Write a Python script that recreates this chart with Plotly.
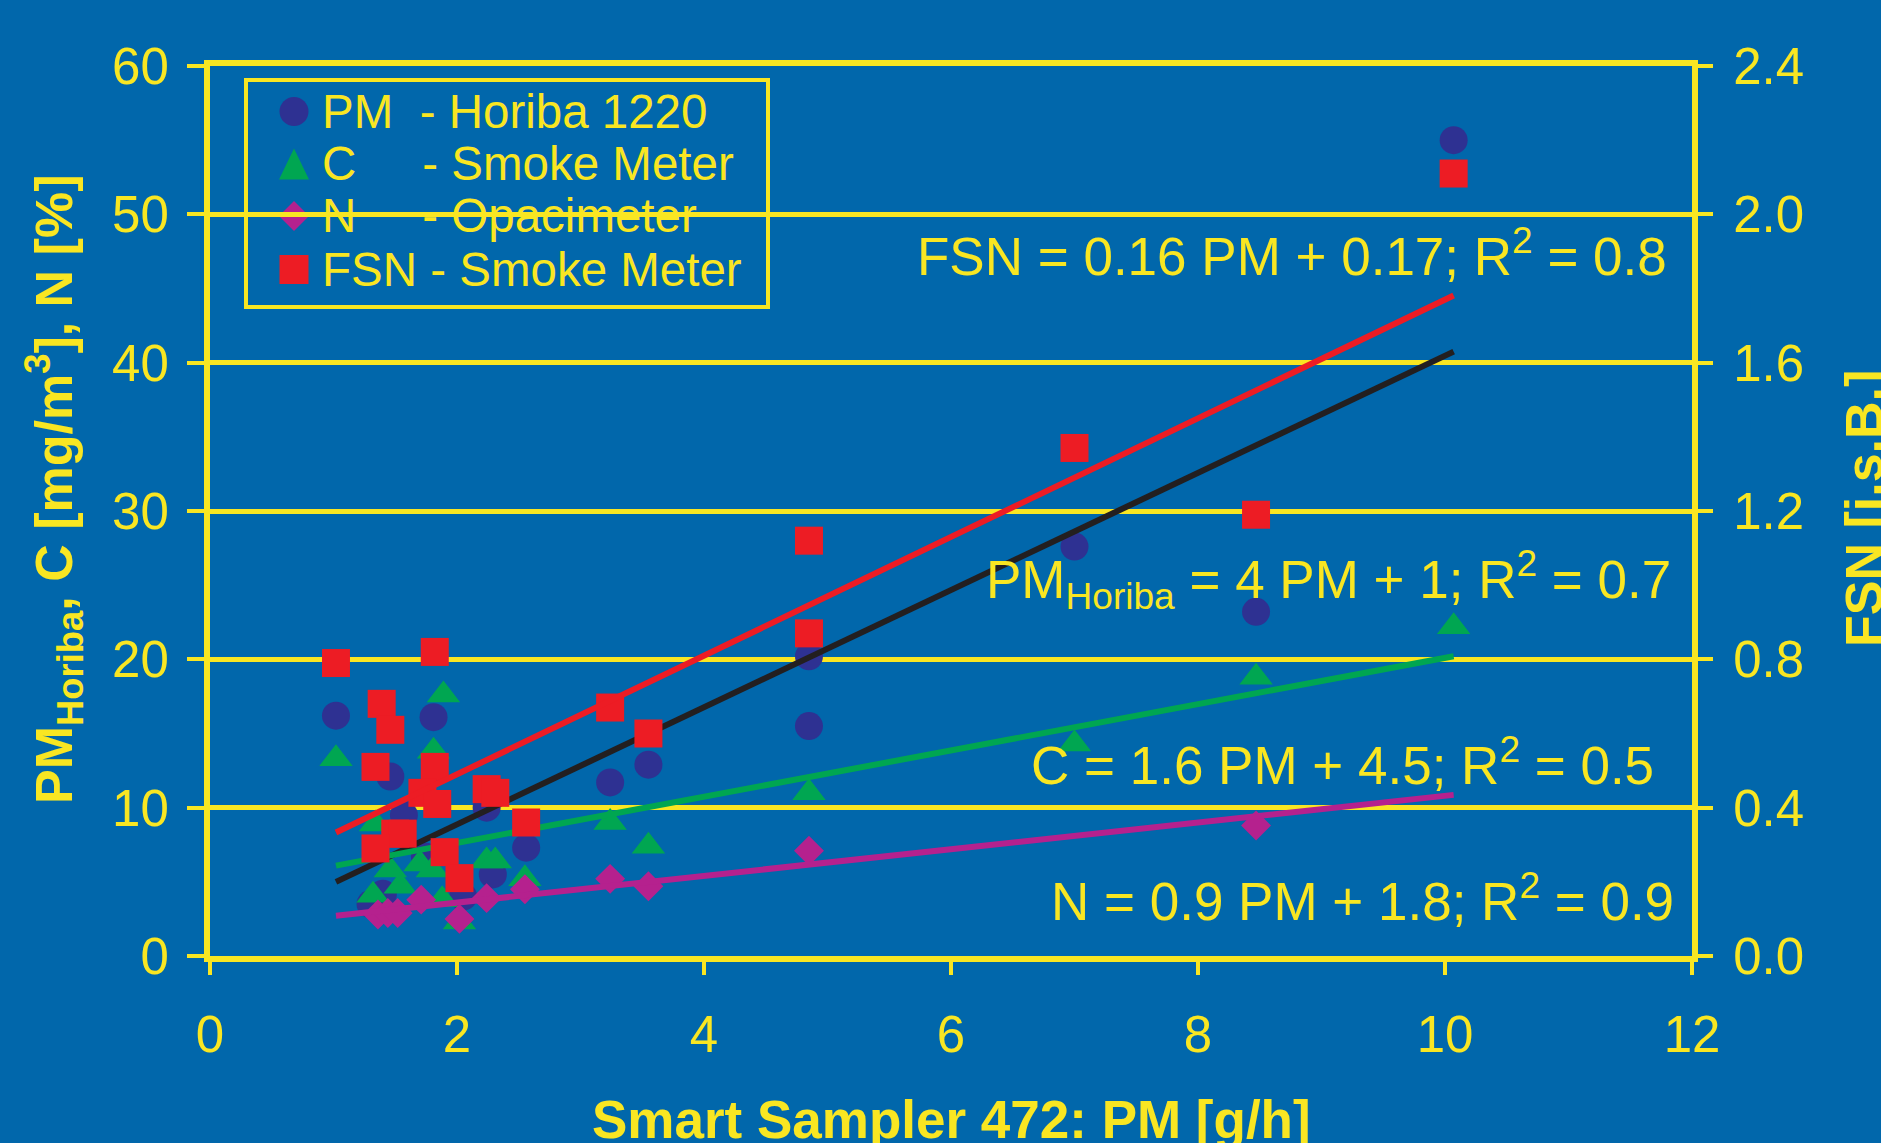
import numpy as np
import plotly.graph_objects as go

# ---------------- data ----------------
pm_x = [1.02, 1.46, 1.57, 1.30, 1.40, 1.74, 1.81, 2.05, 2.24, 2.29, 2.56, 3.24, 3.55, 4.85, 4.85, 7.00, 8.47, 10.07]
pm_y = [16.2, 12.1, 9.5, 3.5, 4.2, 6.7, 16.1, 4.0, 10.0, 5.5, 7.3, 11.7, 12.9, 20.2, 15.5, 27.6, 23.2, 55.0]

c_x = [1.02, 1.34, 1.46, 1.32, 1.54, 1.70, 1.80, 1.81, 1.89, 1.88, 2.02, 2.24, 2.31, 2.55, 3.24, 3.55, 4.85, 7.00, 8.47, 10.07]
c_y = [13.3, 8.9, 5.8, 4.1, 4.7, 6.2, 5.8, 13.8, 17.6, 3.8, 2.3, 6.4, 6.4, 5.2, 9.0, 7.4, 11.0, 14.3, 18.8, 22.2]

n_x = [1.36, 1.44, 1.52, 1.71, 2.02, 2.24, 2.55, 3.24, 3.55, 4.85, 8.47]
n_y = [2.8, 2.9, 2.9, 3.8, 2.5, 3.9, 4.5, 5.2, 4.7, 7.1, 8.8]

fsn_x = [1.02, 1.39, 1.46, 1.34, 1.82, 1.82, 1.72, 1.84, 2.24, 2.31, 1.50, 1.56, 1.34, 1.90, 2.02, 2.56,
         3.24, 3.55, 4.85, 4.85, 7.00, 8.47, 10.07]
fsn_y = [0.79, 0.68, 0.61, 0.51, 0.82, 0.51, 0.44, 0.41, 0.45, 0.44, 0.33, 0.33, 0.29, 0.28, 0.21, 0.36,
         0.67, 0.60, 1.12, 0.87, 1.37, 1.19, 2.11]

# trend line coefficients (slope, intercept)
pm_fit = [3.95, 0.97]
c_fit = [1.56, 4.5]
n_fit = [0.9, 1.8]
fsn_fit = [0.16, 0.17]

x_ticks = [0, 2, 4, 6, 8, 10, 12]
y_ticks = [0, 10, 20, 30, 40, 50, 60]
y2_ticks = [0.0, 0.4, 0.8, 1.2, 1.6, 2.0, 2.4]

legend_names = ["PM\u00a0\u00a0- Horiba 1220",
                "C\u00a0\u00a0\u00a0\u00a0\u00a0- Smoke Meter",
                "N\u00a0\u00a0\u00a0\u00a0\u00a0- Opacimeter",
                "FSN - Smoke Meter"]

eq_texts = ["FSN = 0.16 PM + 0.17; R<sup>2</sup> = 0.8",
            "PM<sub>Horiba</sub> = 4 PM + 1; R<sup>2</sup> = 0.7",
            "C = 1.6 PM + 4.5; R<sup>2</sup> = 0.5",
            "N = 0.9 PM + 1.8; R<sup>2</sup> = 0.9"]

x_title = "<b>Smart Sampler 472: PM [g/h]</b>"
y_title = "<b>PM<sub>Horiba</sub>, C [mg/m<sup>3</sup>], N [%]</b>"
y2_title = "<b>FSN [i.s.B.]</b>"

# ---------------- style ----------------
W, H = 1881, 1143
ML, MR, MT, MB = 210, 189, 66, 187
PW, PH = W - ML - MR, H - MT - MB

BG = "#0167AB"
YEL = "#F9E622"
FONT = "Liberation Sans, Arial, sans-serif"
C_PM = "#2E3192"
C_C = "#00A651"
C_N = "#B5218E"
C_FSN = "#ED1C24"
C_LINE_PM = "#231F20"


def px(xpix):
    return (xpix - ML) / PW


def py(ypix):
    return (H - MB - ypix) / PH


fig = go.Figure()

fig.add_trace(go.Scatter(x=pm_x, y=pm_y, mode="markers", name=legend_names[0], showlegend=False,
                         marker=dict(symbol="circle", size=28, color=C_PM, line=dict(width=0))))
fig.add_trace(go.Scatter(x=c_x, y=c_y, mode="markers", name=legend_names[1], showlegend=False,
                         marker=dict(symbol="triangle-up", size=29, color=C_C, line=dict(width=0))))
fig.add_trace(go.Scatter(x=n_x, y=n_y, mode="markers", name=legend_names[2], showlegend=False,
                         marker=dict(symbol="diamond", size=23, color=C_N, line=dict(width=0))))
fig.add_trace(go.Scatter(x=fsn_x, y=fsn_y, mode="markers", name=legend_names[3], yaxis="y2", showlegend=False,
                         marker=dict(symbol="square", size=28, color=C_FSN, line=dict(width=0))))

xr = np.array([min(pm_x), max(pm_x)])
for fit, col, ax in [(pm_fit, C_LINE_PM, "y"), (c_fit, C_C, "y"), (n_fit, C_N, "y"), (fsn_fit, C_FSN, "y2")]:
    fig.add_trace(go.Scatter(x=xr, y=fit[0] * xr + fit[1], mode="lines", yaxis=ax, showlegend=False,
                             line=dict(color=col, width=6)))

# equation annotations (right aligned, data coords)
eq_pos = [(11.81, 47.4), (11.85, 25.4), (11.71, 13.1), (11.87, 3.95)]
for txt, (ax_, ay_) in zip(eq_texts, eq_pos):
    fig.add_annotation(x=ax_, y=ay_, xref="x", yref="y", text=txt, showarrow=False,
                       xanchor="right", yanchor="middle",
                       font=dict(family=FONT, size=53, color=YEL))

# axis titles
fig.add_annotation(x=px(951), y=py(1119), xref="paper", yref="paper", text=x_title,
                   showarrow=False, xanchor="center", yanchor="middle",
                   font=dict(family=FONT, size=53, color=YEL))
fig.add_annotation(x=px(54), y=py(489), xref="paper", yref="paper", text=y_title,
                   textangle=-90, showarrow=False, xanchor="center", yanchor="middle",
                   font=dict(family=FONT, size=52, color=YEL))
fig.add_annotation(x=px(1864), y=py(509), xref="paper", yref="paper", text=y2_title,
                   textangle=-90, showarrow=False, xanchor="center", yanchor="middle",
                   font=dict(family=FONT, size=52, color=YEL))

# ---------------- legend (boxed, drawn beneath the grid) ----------------
shapes = []
shapes.append(dict(type="rect", xref="paper", yref="paper", layer="below",
                   x0=px(246), x1=px(768), y0=py(307), y1=py(80),
                   line=dict(color=YEL, width=4), fillcolor="rgba(0,0,0,0)"))
row_y = [111.5, 164, 216, 269.5]
mx = 294
hs = 14.5
shapes.append(dict(type="circle", xref="paper", yref="paper", layer="below",
                   x0=px(mx - hs), x1=px(mx + hs), y0=py(row_y[0] + hs), y1=py(row_y[0] - hs),
                   fillcolor=C_PM, line=dict(width=0)))
ty = row_y[1]
shapes.append(dict(type="path", xref="paper", yref="paper", layer="below",
                   path=f"M {px(mx - 15)} {py(ty + 15.5)} L {px(mx + 15)} {py(ty + 15.5)} L {px(mx)} {py(ty - 15.5)} Z",
                   fillcolor=C_C, line=dict(width=0)))
dy = row_y[2]
shapes.append(dict(type="path", xref="paper", yref="paper", layer="below",
                   path=f"M {px(mx)} {py(dy - 15)} L {px(mx + 15)} {py(dy)} L {px(mx)} {py(dy + 15)} L {px(mx - 15)} {py(dy)} Z",
                   fillcolor=C_N, line=dict(width=0)))
shapes.append(dict(type="rect", xref="paper", yref="paper", layer="below",
                   x0=px(mx - hs), x1=px(mx + hs), y0=py(row_y[3] + hs), y1=py(row_y[3] - hs),
                   fillcolor=C_FSN, line=dict(width=0)))

for name, ry in zip(legend_names, row_y):
    fig.add_annotation(x=px(320), y=py(ry), xref="paper", yref="paper", text=name,
                       showarrow=False, xanchor="left", yanchor="middle",
                       font=dict(family=FONT, size=47.5, color=YEL))

tickfont = dict(family=FONT, size=51, color=YEL)

fig.update_layout(
    width=W, height=H,
    paper_bgcolor=BG, plot_bgcolor="rgba(0,0,0,0)",
    margin=dict(l=ML, r=MR, t=MT, b=MB, autoexpand=False),
    font=dict(family=FONT, color=YEL),
    showlegend=False,
    shapes=shapes,
    xaxis=dict(range=[0, 12], tickvals=x_ticks, ticktext=[str(v) for v in x_ticks],
               showgrid=False, zeroline=False,
               showline=True, linecolor=YEL, linewidth=6, mirror=True,
               ticks="outside", ticklen=13, tickwidth=4, tickcolor=YEL,
               tickfont=tickfont, ticklabelstandoff=16),
    yaxis=dict(range=[0, 60], tickvals=y_ticks, ticktext=[str(v) for v in y_ticks],
               showgrid=True, gridcolor=YEL, gridwidth=5, zeroline=False,
               showline=True, linecolor=YEL, linewidth=6,
               ticks="outside", ticklen=17, tickwidth=4, tickcolor=YEL,
               tickfont=tickfont, ticklabelstandoff=8),
    yaxis2=dict(range=[0, 2.4], tickvals=y2_ticks, ticktext=[f"{v:.1f}" for v in y2_ticks],
                overlaying="y", side="right", showgrid=False, zeroline=False,
                showline=True, linecolor=YEL, linewidth=6,
                ticks="outside", ticklen=15, tickwidth=4, tickcolor=YEL,
                tickfont=tickfont, ticklabelstandoff=10),
)

fig.write_html("out.html")
